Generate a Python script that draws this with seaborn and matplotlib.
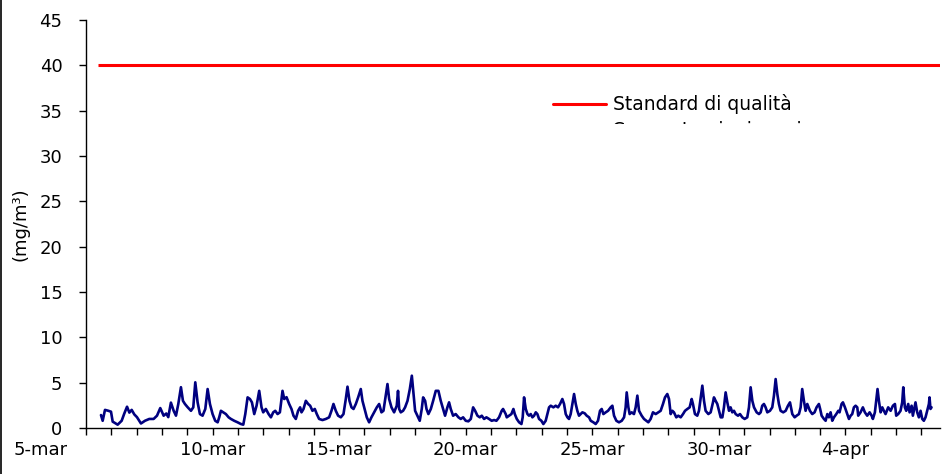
import pandas as pd
import matplotlib
matplotlib.use("Agg")
import matplotlib.pyplot as plt
import matplotlib.dates as mdates
import matplotlib.transforms as mtransforms
from matplotlib.lines import Line2D
import seaborn as sns

# hourly concentrations (hours since 5-mar 00:00)
hours = [
    14.2, 15.8, 18.0, 21.2, 23.7, 25.3, 26.8, 30.0, 33.8, 36.3, 38.9, 41.1, 43.3, 45.8, 48.3,
    52.1, 55.9, 60.0, 64.1, 67.3, 70.4, 73.6, 76.1, 78.0, 80.5, 83.1, 85.3, 87.5, 90.0, 91.9,
    93.8, 96.3, 99.5, 101.7, 103.6, 105.8, 108.0, 110.5, 113.1, 115.3, 117.5, 120.0, 122.5,
    124.8, 126.3, 127.9, 130.1, 132.6, 135.2, 137.4, 140.5, 143.7, 146.9, 149.1, 151.0, 153.2,
    155.4, 157.3, 159.5, 161.7, 164.2, 166.4, 168.0, 170.5, 173.1, 175.3, 177.5, 179.4, 181.6,
    183.8, 186.3, 187.9, 190.1, 192.6, 194.8, 196.7, 198.9, 201.1, 203.0, 204.3, 206.2, 208.4,
    210.6, 212.5, 214.7, 216.9, 218.8, 221.0, 224.2, 227.4, 230.5, 232.7, 234.6, 236.8, 239.0,
    241.6, 244.1, 246.3, 247.9, 249.8, 251.7, 253.6, 255.8, 258.0, 260.5, 262.1, 263.7, 266.2,
    268.4, 270.6, 273.2, 275.7, 277.9, 280.1, 282.0, 284.2, 285.8, 287.4, 289.6, 292.1, 294.6,
    295.8, 296.9, 298.4, 300.6, 302.5, 304.8, 307.0, 308.9, 310.4, 312.0, 314.2, 316.4, 318.3,
    319.6, 321.5, 322.8, 324.6, 326.9, 329.1, 331.6, 334.1, 336.3, 338.5, 340.4, 342.6, 344.2,
    345.8, 348.0, 350.5, 353.1, 355.3, 357.5, 360.0, 362.5, 364.8, 367.0, 368.9, 371.1, 373.3,
    375.2, 377.4, 379.6, 382.1, 384.6, 386.9, 389.1, 391.6, 394.1, 395.4, 397.9, 398.9, 401.1,
    403.3, 405.2, 406.5, 408.4, 410.6, 412.8, 414.0, 415.3, 416.9, 418.5, 420.0, 421.6, 423.2,
    424.8, 426.4, 427.9, 429.5, 431.7, 433.6, 435.8, 437.4, 439.0, 440.6, 443.1, 445.3, 447.5,
    449.4, 451.6, 453.2, 454.8, 456.4, 457.9, 459.5, 461.1, 462.7, 464.3, 465.8, 467.4, 469.0,
    470.6, 472.8, 474.7, 476.9, 478.5, 481.0, 483.2, 485.4, 487.3, 488.9, 490.5, 492.7, 494.9,
    497.4, 499.0, 500.6, 502.8, 505.3, 507.9, 510.1, 511.6, 512.6, 514.2, 515.4, 517.3, 519.5,
    521.1, 522.7, 524.3, 526.8, 529.0, 531.2, 533.1, 535.3, 537.5, 540.1, 542.6, 544.8, 547.0,
    548.9, 551.1, 552.7, 554.3, 555.9, 557.4, 559.6, 561.5, 563.8, 566.0, 567.9, 570.1, 572.3,
    574.2, 575.4, 577.3, 579.5, 581.1, 583.0, 584.3, 585.9, 587.4, 590.0, 592.2, 594.4, 595.3,
    596.9, 598.5, 600.1, 601.7, 603.3, 604.8, 606.4, 608.0, 609.6, 611.1, 612.7, 614.3, 615.9,
    618.1, 620.0, 622.2, 624.4, 626.9, 628.5, 630.1, 631.7, 633.3, 635.8, 638.0, 639.6, 641.1,
    642.7, 644.3, 645.9, 648.4, 650.6, 652.2, 653.8, 655.4, 656.9, 658.5, 661.0, 663.3, 665.5,
    667.4, 669.6, 671.8, 673.7, 675.9, 677.5, 679.0, 680.6, 682.2, 683.8, 686.3, 688.5, 690.7,
    692.6, 694.8, 696.0, 697.4, 699.6, 701.2, 702.8, 704.3, 705.9, 707.5, 709.1, 711.3, 713.2,
    714.4, 716.3, 717.6, 719.5, 721.7, 723.3, 724.9, 726.4, 728.0, 729.6, 731.2, 732.1, 734.3,
    736.5, 738.4, 740.6, 742.9, 744.8, 746.0, 747.9, 749.5, 750.4, 751.7, 753.3, 754.9, 756.4,
    758.0, 760.5, 762.8, 765.0, 766.9, 768.1, 770.0, 772.2, 773.8, 774.8, 776.3, 777.6, 779.5,
    780.8, 782.7, 783.9, 785.2, 786.4, 788.0, 789.6, 791.2, 792.8, 794.3, 795.9, 797.5, 799.1,
    799.7, 800.6, 801.6,
]
conc = [
    1.43, 0.8, 2.0, 1.9, 1.8, 0.7, 0.6, 0.37, 0.8, 1.6, 2.35, 1.7, 2.0, 1.5, 1.2,
    0.5, 0.8, 1.0, 1.0, 1.36, 2.2, 1.36, 1.6, 1.2, 2.8, 1.9, 1.36, 2.65, 4.5, 3.0,
    2.65, 2.3, 1.9, 2.28, 5.04, 2.83, 1.54, 1.36, 2.1, 4.3, 2.65, 1.54, 0.8,
    0.63, 1.18, 1.9, 1.73, 1.54, 1.18, 1.0, 0.8, 0.63, 0.44, 0.37, 1.54, 3.38,
    3.2, 2.83, 1.54, 2.46, 4.1, 2.28, 1.73, 2.1, 1.54, 1.18, 1.73, 1.9, 1.54,
    1.73, 4.1, 3.2, 3.4, 2.65, 2.1, 1.36, 1.0, 1.9, 2.28, 1.73, 2.1, 3.0,
    2.65, 2.46, 1.9, 2.1, 1.54, 1.0, 0.88, 1.0, 1.18, 1.9, 2.65, 1.9, 1.36,
    1.18, 1.54, 3.2, 4.56, 3.0, 2.28, 2.1, 2.65, 3.38, 4.3, 3.0, 2.28, 1.18,
    0.63, 1.18, 1.73, 2.28, 2.65, 1.73, 1.9, 3.57, 4.85, 3.2, 2.28, 1.73, 2.46,
    4.1, 2.1, 1.73, 1.9, 2.28, 3.0, 4.3, 5.77, 3.93, 1.9, 1.36, 0.8, 2.1,
    3.38, 3.0, 2.1, 1.54, 2.1, 3.0, 4.1, 4.1, 3.0, 2.1, 1.36, 2.28, 2.83,
    2.1, 1.36, 1.54, 1.18, 1.0, 1.18, 0.8, 0.74, 1.0, 2.28, 1.9, 1.36, 1.18,
    1.36, 1.0, 1.18, 1.0, 0.8, 0.88, 0.8, 1.18, 1.9, 2.1, 1.54, 1.18, 1.36,
    1.54, 2.1, 1.54, 1.0, 0.63, 0.44, 1.18, 3.38, 2.1, 1.54, 1.36, 1.54, 1.18,
    1.36, 1.73, 1.54, 1.0, 0.8, 0.44, 0.8, 1.54, 2.28, 2.46, 2.28, 2.46, 2.28,
    2.65, 3.2, 2.65, 1.54, 1.18, 1.0, 1.54, 2.65, 3.75, 2.65, 1.9, 1.36, 1.54,
    1.73, 1.62, 1.36, 1.18, 0.8, 0.63, 0.44, 0.8, 1.9, 2.1, 1.54, 1.73, 1.9,
    2.28, 2.46, 1.36, 0.8, 0.63, 0.8, 1.18, 2.28, 3.93, 2.28, 1.54, 1.73, 1.54,
    2.28, 3.57, 1.9, 1.36, 1.0, 0.8, 0.63, 1.0, 1.73, 1.54, 1.73, 1.9, 2.65,
    3.38, 3.75, 3.2, 1.54, 1.9, 1.73, 1.18, 1.36, 1.18, 1.54, 1.9, 2.1, 2.28,
    3.2, 2.65, 1.54, 1.36, 1.9, 3.57, 4.67, 3.0, 1.9, 1.54, 1.73, 2.83, 3.38,
    3.0, 2.65, 1.9, 1.18, 1.18, 2.28, 3.93, 2.83, 1.9, 2.28, 1.73, 1.9, 1.54,
    1.36, 1.54, 1.18, 1.0, 1.18, 2.28, 4.49, 3.0, 2.28, 1.73, 1.54, 1.73, 2.46,
    2.65, 2.28, 1.73, 1.9, 2.28, 3.57, 5.4, 3.75, 2.65, 1.9, 1.73, 1.9, 2.46,
    2.83, 1.54, 1.18, 1.36, 1.54, 2.28, 4.3, 3.0, 1.9, 2.65, 1.9, 1.54, 1.73,
    2.28, 2.65, 2.1, 1.36, 1.0, 0.8, 1.54, 1.18, 1.73, 0.8, 1.18, 1.54, 1.9,
    1.73, 2.65, 2.83, 2.28, 1.54, 1.0, 1.36, 1.54, 2.28, 2.46, 2.28, 1.36, 1.73,
    2.28, 1.73, 1.36, 1.73, 1.36, 1.0, 1.73, 3.38, 4.3, 3.0, 1.73, 2.28, 1.9,
    1.54, 2.28, 1.9, 2.46, 2.65, 1.36, 1.54, 1.9, 2.83, 4.49, 2.28, 1.9, 2.65,
    1.73, 2.46, 1.36, 2.1, 2.83, 1.73, 1.18, 1.9, 1.0, 0.8, 1.18, 1.9, 2.65,
    3.38, 2.1, 2.28,
]
standard = 40
tick_dates = ["2008-03-05", "2008-03-10", "2008-03-15", "2008-03-20",
              "2008-03-25", "2008-03-30", "2008-04-04"]
tick_labels = ["5-mar", "10-mar", "15-mar", "20-mar", "25-mar", "30-mar", "4-apr"]
y_ticks = [0, 5, 10, 15, 20, 25, 30, 35, 40, 45]

start = pd.Timestamp("2008-03-05")
x_end = pd.Timestamp("2008-04-07 18:00")
df = pd.DataFrame({"time": start + pd.to_timedelta(hours, unit="h"), "conc": conc})

sns.set_style("ticks")
plt.rcParams["font.family"] = ["DejaVu Sans"]
plt.rcParams["font.size"] = 13
plt.rcParams["text.color"] = "black"
plt.rcParams["axes.labelcolor"] = "black"

fig = plt.figure(figsize=(9.42, 4.74), dpi=100)
ax = fig.add_axes([0.0913, 0.097, 0.907, 0.861])

sns.lineplot(data=df, x="time", y="conc", ax=ax, color="#000080",
             linewidth=1.9, sort=False, estimator=None)
ax.hlines(standard, start + pd.Timedelta(hours=11), x_end, color="#ff0000", linewidth=2.2)

ax.set_xlim(start, x_end)
ax.set_ylim(0, 45)
ax.set_yticks(y_ticks)
ax.set_xticks(pd.to_datetime(tick_dates))
ax.set_xticklabels(tick_labels)
ax.xaxis.set_minor_locator(mdates.DayLocator())
ax.tick_params(axis="both", which="both", direction="out", length=5, width=1,
               color="black", labelsize=13, labelcolor="black")
ax.tick_params(axis="y", pad=12)
ax.tick_params(axis="x", pad=4)

# first label sits left of its tick like in the original
lbl0 = ax.get_xticklabels()[0]
lbl0.set_transform(lbl0.get_transform() + mtransforms.ScaledTranslation(-0.45, 0, fig.dpi_scale_trans))

ax.set_xlabel("")
ax.set_ylabel("(mg/m³)", fontsize=13, labelpad=7, color="black")
sns.despine(ax=ax)
for side in ["left", "bottom"]:
    ax.spines[side].set_color("black")
    ax.spines[side].set_linewidth(1)

handle = Line2D([], [], color="#ff0000", linewidth=2.2)
ax.legend([handle], ["Standard di qualità"], loc="center left",
          bbox_to_anchor=(0.547, 0.793), frameon=False, fontsize=13.5,
          handlelength=2.8, handletextpad=0.4, borderpad=0, borderaxespad=0,
          labelcolor="black")

# second legend entry is cut off in the original, only its top shows
cut = fig.text(612 / 942, 1 - 121 / 474, "Concentrazioni orarie", fontsize=13.5,
               va="top", ha="left", color="black")
cut.set_clip_box(mtransforms.TransformedBbox(
    mtransforms.Bbox.from_extents(0.6, 1 - 123.5 / 474, 0.9, 1 - 119 / 474), fig.transFigure))
cut.set_clip_on(True)

# left frame line of the chart area
fig.add_artist(Line2D([0.0015, 0.0015], [0, 1], transform=fig.transFigure,
                      color="black", linewidth=1.2))

fig.savefig("out.png", dpi=100)
